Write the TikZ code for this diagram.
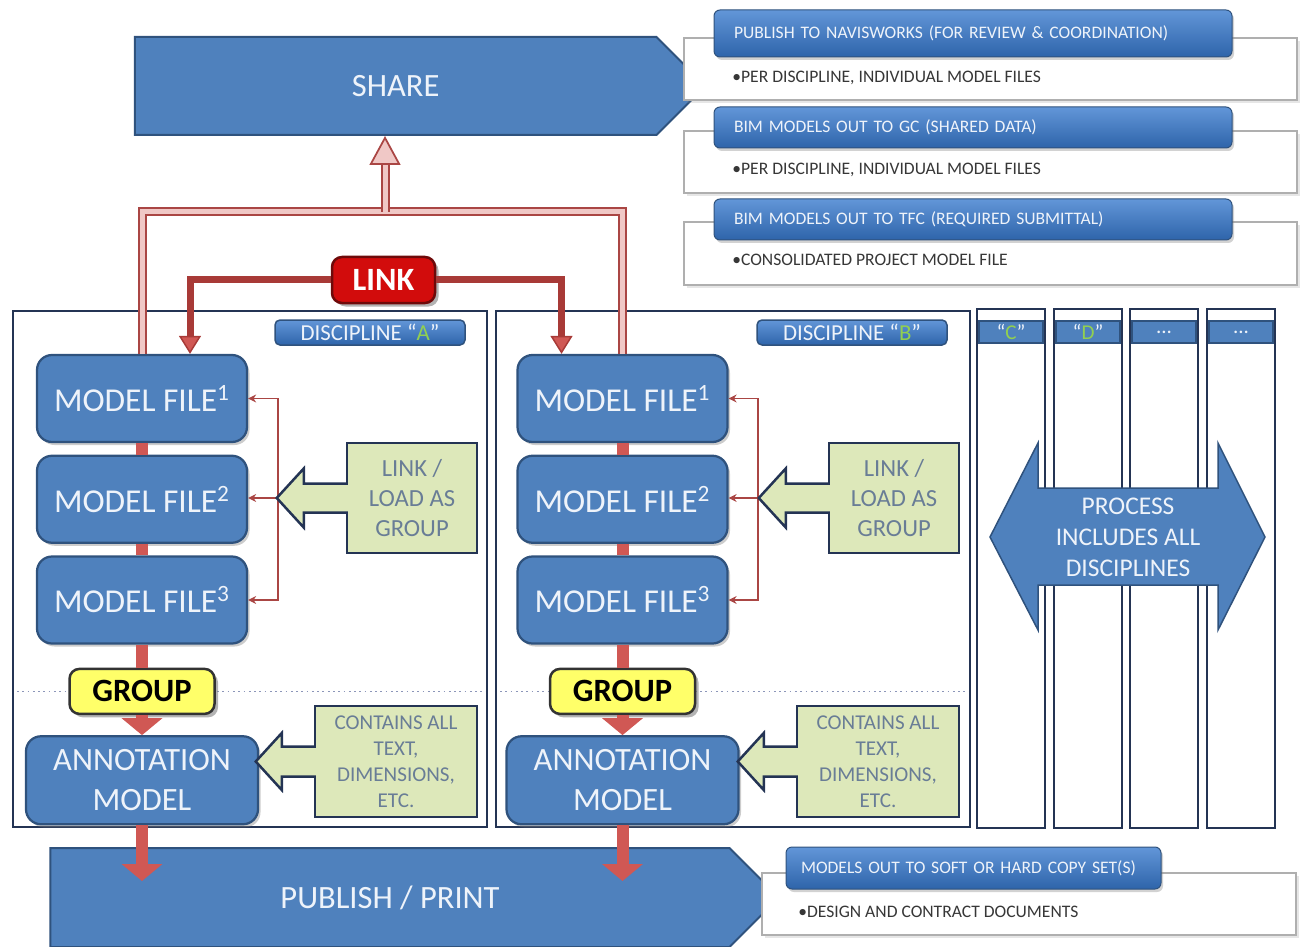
\documentclass[tikz,border=0pt]{standalone}
\usepackage{fontspec}
\setmainfont{Carlito}
\usepackage{tikz}
\usetikzlibrary{arrows.meta,positioning,backgrounds,shapes.symbols,shadows,calc}

\definecolor{boxblue}{RGB}{79,129,189}
\definecolor{boxedge}{RGB}{47,82,125}
\definecolor{hdtop}{RGB}{98,150,216}
\definecolor{hdbot}{RGB}{46,100,170}
\definecolor{navy}{RGB}{36,52,84}
\definecolor{pale}{RGB}{221,232,186}
\definecolor{paletext}{RGB}{105,125,150}
\definecolor{linkred}{RGB}{210,12,12}
\definecolor{linkdark}{RGB}{110,10,10}
\definecolor{linkrust}{RGB}{168,58,55}
\definecolor{grpyellow}{RGB}{255,255,105}
\definecolor{shaftred}{RGB}{208,88,84}
\definecolor{pipered}{RGB}{170,70,68}
\definecolor{pipepink}{RGB}{240,200,198}
\definecolor{grnletter}{RGB}{146,208,80}
\definecolor{sheetgray}{RGB}{175,175,175}
\definecolor{bodygray}{RGB}{55,55,55}
\definecolor{dotblue}{RGB}{140,150,185}
\definecolor{offwhite}{RGB}{238,243,250}

\begin{document}
\begin{tikzpicture}
  [x=0.2mm, y=-0.2mm, font=\fontsize{14}{17}\selectfont,
  % STYLES
  % the two big blue chevrons
  stepbar/.style={signal, signal to=east, signal pointer angle=90, fill=boxblue, draw=boxedge, line width=0.4mm, text=offwhite, font=\fontsize{18.5}{22}\selectfont},
  % frames round each discipline and the narrow columns
  discframe/.style={rectangle, draw=navy, line width=0.45mm, minimum width=94.8mm, minimum height=103.2mm},
  colframe/.style={rectangle, draw=navy, line width=0.55mm, fill=white, minimum width=13.6mm, minimum height=103.8mm},
  colhead/.style={rectangle, fill=boxblue, draw=boxedge, line width=0.3mm, minimum width=12.8mm, minimum height=4.4mm, inner sep=0pt, text=offwhite, font=\fontsize{12}{12}\selectfont},
  labelbox/.style={rectangle, rounded corners=1mm, top color=hdtop, bottom color=hdbot, draw=boxedge, line width=0.3mm, minimum width=38mm, minimum height=5mm, inner sep=0pt, text=offwhite, font=\fontsize{13}{13}\selectfont},
  % the blue model nodes
  modelbox/.style={rectangle, rounded corners=3mm, fill=boxblue, draw=boxedge, line width=0.45mm, text=offwhite, minimum width=42mm, minimum height=17.4mm, font=\fontsize{19}{22}\selectfont, drop shadow={opacity=0.4, shadow xshift=0.5mm, shadow yshift=-0.6mm}},
  annbox/.style={modelbox, minimum width=46.4mm, minimum height=17.6mm, align=center, font=\fontsize{18.5}{22.5}\selectfont},
  linkbox/.style={rectangle, rounded corners=2mm, fill=linkred, draw=linkdark, line width=0.5mm, text=white, minimum width=20.6mm, minimum height=9.2mm, inner sep=0pt, font=\bfseries\fontsize{18.5}{20}\selectfont, drop shadow={opacity=0.6, shadow xshift=0.7mm, shadow yshift=-0.7mm}},
  groupbox/.style={rectangle, rounded corners=2mm, fill=grpyellow, draw=black!80, line width=0.5mm, text=black, minimum width=29mm, minimum height=9mm, inner sep=0pt, font=\bfseries\fontsize{18.5}{20}\selectfont, drop shadow={opacity=0.6, shadow xshift=0.7mm, shadow yshift=-0.7mm}},
  % pale green notes
  notebox/.style={rectangle, fill=pale, draw=navy, line width=0.5mm, text=paletext, align=center, inner sep=0pt},
  % result sheets on the right
  sheet/.style={rectangle, fill=white, draw=sheetgray, line width=0.3mm, drop shadow={opacity=0.2, shadow xshift=0.6mm, shadow yshift=-0.6mm}},
  hdbox/.style={rectangle, rounded corners=1.2mm, top color=hdtop, bottom color=hdbot, draw=boxedge, line width=0.2mm, text=offwhite, align=left, inner xsep=4mm, inner ysep=0pt, font=\fontsize{10}{12}\selectfont, drop shadow={opacity=0.35, shadow xshift=0.4mm, shadow yshift=-0.6mm}},
  bodytext/.style={text=bodygray, inner sep=0pt, anchor=west, font=\fontsize{10}{12}\selectfont},
  % connectors
  shaft/.style={draw=shaftred, line width=2.4mm},
  droptip/.style={-{Triangle[width=8mm, length=3.4mm]}},
  sharepipe/.style={draw=pipered, line width=0.4mm, double=pipepink, double distance=1mm},
  linkpipe/.style={draw=linkrust, line width=1.4mm},
  bracket/.style={draw=pipered, line width=0.25mm},
  fatarrow/.style={fill=pale, draw=navy, line width=0.5mm, line join=miter}]

  \useasboundingbox (0,0) rectangle (1304,947);

  % main steps
  \node [stepbar, minimum width=114.1mm, minimum height=19.6mm] (share) at (395.75,86) {SHARE};
  \node [stepbar, minimum width=145.7mm, minimum height=19.8mm] (publish) at (390,897.5) {PUBLISH / PRINT};

  % sheets for share
  \node [sheet, minimum width=122.6mm, minimum height=12.4mm] (navSheet) at (990.5,69) {};
  \node [hdbox, text width=95.6mm, minimum height=9.4mm] (navHead) at (973,33.5) {PUBLISH TO NAVISWORKS (FOR REVIEW \& COORDINATION)};
  \node [bodytext] (navText) at (732,78) {•PER DISCIPLINE, INDIVIDUAL MODEL FILES};
  \node [sheet, minimum width=122.6mm, minimum height=12.4mm] (gcSheet) at (990.5,162) {};
  \node [hdbox, text width=95.6mm, minimum height=8.2mm] (gcHead) at (973,127.5) {BIM MODELS OUT TO GC (SHARED DATA)};
  \node [bodytext] (gcText) at (732,170) {•PER DISCIPLINE, INDIVIDUAL MODEL FILES};
  \node [sheet, minimum width=122.6mm, minimum height=12.6mm] (tfcSheet) at (990.5,253.5) {};
  \node [hdbox, text width=95.6mm, minimum height=8.2mm] (tfcHead) at (973,219.5) {BIM MODELS OUT TO TFC (REQUIRED SUBMITTAL)};
  \node [bodytext] (tfcText) at (732,260) {•CONSOLIDATED PROJECT MODEL FILE};
  % sheet for print
  \node [sheet, minimum width=106.8mm, minimum height=12.4mm] (prtSheet) at (1029,904) {};
  \node [hdbox, inner xsep=3mm, text width=69mm, minimum height=8.4mm] (prtHead) at (973.5,868) {MODELS OUT TO SOFT OR HARD COPY SET(S)};
  \node [bodytext] (prtText) at (798,912) {•DESIGN AND CONTRACT DOCUMENTS};

  % discipline frames
  \node [discframe] (discA) at (250,569) {};
  \node [discframe] (discB) at (733,569) {};
  \node [labelbox] (labA) at (370,332.5) {DISCIPLINE ``\textcolor{grnletter}{A}''};
  \node [labelbox] (labB) at (852,332.5) {DISCIPLINE ``\textcolor{grnletter}{B}''};

  % other disciplines
  \node [colframe] (colC) at (1011,568.5) {};
  \node [colframe] (colD) at (1088,568.5) {};
  \node [colframe] (colE) at (1164,568.5) {};
  \node [colframe] (colF) at (1241,568.5) {};
  \node [colhead] (headC) at (1011,332) {``\textcolor{grnletter}{C}''};
  \node [colhead] (headD) at (1088,332) {``\textcolor{grnletter}{D}''};
  \node [colhead] (headE) at (1164,332) {...};
  \node [colhead] (headF) at (1241,332) {...};
  \filldraw [fill=boxblue, draw=boxedge, line width=0.3mm] (990,537) -- (1038,443) -- (1038,488) -- (1218,488) -- (1218,443) -- (1265,537) -- (1218,630) -- (1218,585) -- (1038,585) -- (1038,630) -- cycle;
  \node [text=offwhite, align=center, font=\fontsize{14.5}{17.6}\selectfont] (proc) at (1128,537) {PROCESS\\INCLUDES ALL\\DISCIPLINES};

  % discipline A
  \node [modelbox] (mfA1) at (142,398.5) {MODEL FILE\textsuperscript{1}};
  \node [modelbox, below=2.3mm of mfA1] (mfA2) {MODEL FILE\textsuperscript{2}};
  \node [modelbox, below=2.3mm of mfA2] (mfA3) {MODEL FILE\textsuperscript{3}};
  \node [groupbox, below=4.6mm of mfA3] (grpA) {GROUP};
  \node [annbox, below=4mm of grpA] (annA) {ANNOTATION\\MODEL};
  \node [notebox, minimum width=26mm, minimum height=22mm] (loadA) at (412,498) {LINK /\\LOAD AS\\GROUP};
  \node [notebox, minimum width=32.4mm, minimum height=22.2mm, font=\fontsize{12}{14.7}\selectfont] (contA) at (396,761.5) {CONTAINS ALL\\TEXT,\\DIMENSIONS,\\ETC.};
  \coordinate (brA) at (278,498);

  % discipline B
  \node [modelbox] (mfB1) at (622.5,398.5) {MODEL FILE\textsuperscript{1}};
  \node [modelbox, below=2.3mm of mfB1] (mfB2) {MODEL FILE\textsuperscript{2}};
  \node [modelbox, below=2.3mm of mfB2] (mfB3) {MODEL FILE\textsuperscript{3}};
  \node [groupbox, below=4.6mm of mfB3] (grpB) {GROUP};
  \node [annbox, below=4mm of grpB] (annB) {ANNOTATION\\MODEL};
  \node [notebox, minimum width=26mm, minimum height=22mm] (loadB) at (894,498) {LINK /\\LOAD AS\\GROUP};
  \node [notebox, minimum width=32.4mm, minimum height=22.2mm, font=\fontsize{12}{14.7}\selectfont] (contB) at (878,761.5) {CONTAINS ALL\\TEXT,\\DIMENSIONS,\\ETC.};
  \coordinate (brB) at (758,498);

  % link
  \node [linkbox] (link) at (383.5,280) {LINK};

  % group split lines
  \begin{scope}[on background layer]
  \draw [dotblue, dotted, line width=0.35mm] (discA.west |- grpA) -- (discA.east |- grpA);
  \draw [dotblue, dotted, line width=0.35mm] (discB.west |- grpB) -- (discB.east |- grpB);
  \end{scope}

  % Draw the links
  \draw [shaft] (mfA1) -- (mfA2);
  \draw [shaft] (mfA2) -- (mfA3);
  \draw [shaft] (mfA3) -- (grpA);
  \draw [shaft, droptip] (grpA) -- (annA);
  \draw [shaft, droptip] (annA) -- ($(annA.south |- publish.north)+(0,34)$);
  \draw [shaft] (mfB1) -- (mfB2);
  \draw [shaft] (mfB2) -- (mfB3);
  \draw [shaft] (mfB3) -- (grpB);
  \draw [shaft, droptip] (grpB) -- (annB);
  \draw [shaft, droptip] (annB) -- ($(annB.south |- publish.north)+(0,34)$);

  \coordinate (jn) at (385,212);
  \draw [sharepipe] (mfA1.north) |- (jn) -| (mfB1.north);
  \draw [sharepipe, -{Triangle[width=6.2mm, length=5.8mm, fill=pipepink, line width=0.35mm]}] (jn) -- (share.south -| jn);

  \draw [linkpipe, -{Triangle[width=4.4mm, length=3.6mm, fill=shaftred, line width=0.3mm]}] (link) -| ([xshift=9.6mm]mfA1.north);
  \draw [linkpipe, -{Triangle[width=4.4mm, length=3.6mm, fill=shaftred, line width=0.3mm]}] (link) -| ([xshift=-12.2mm]mfB1.north);

  \draw [bracket, {Stealth[length=1.6mm, width=1.6mm]}-{Stealth[length=1.6mm, width=1.6mm]}] (mfA1.east) -| (brA) |- (mfA3.east);
  \draw [bracket, -{Stealth[length=1.6mm, width=1.6mm]}] (brA) -- (brA -| mfA2.east);
  \draw [bracket, {Stealth[length=1.6mm, width=1.6mm]}-{Stealth[length=1.6mm, width=1.6mm]}] (mfB1.east) -| (brB) |- (mfB3.east);
  \draw [bracket, -{Stealth[length=1.6mm, width=1.6mm]}] (brB) -- (brB -| mfB2.east);

  \filldraw [fatarrow] ($(loadA.west)+(2,-14.5)$) -- ++(-44,0) -- ++(0,-15) -- ++(-27,29.5) -- ++(27,29.5) -- ++(0,-15) -- ++(44,0);
  \filldraw [fatarrow] ($(loadB.west)+(2,-14.5)$) -- ++(-44,0) -- ++(0,-15) -- ++(-27,29.5) -- ++(27,29.5) -- ++(0,-15) -- ++(44,0);
  \filldraw [fatarrow] ($(contA.west)+(2,-15)$) -- ++(-34,0) -- ++(0,-13.5) -- ++(-26,28.5) -- ++(26,28.5) -- ++(0,-13.5) -- ++(34,0);
  \filldraw [fatarrow] ($(contB.west)+(2,-15)$) -- ++(-34,0) -- ++(0,-13.5) -- ++(-26,28.5) -- ++(26,28.5) -- ++(0,-13.5) -- ++(34,0);
\end{tikzpicture}
\end{document}
